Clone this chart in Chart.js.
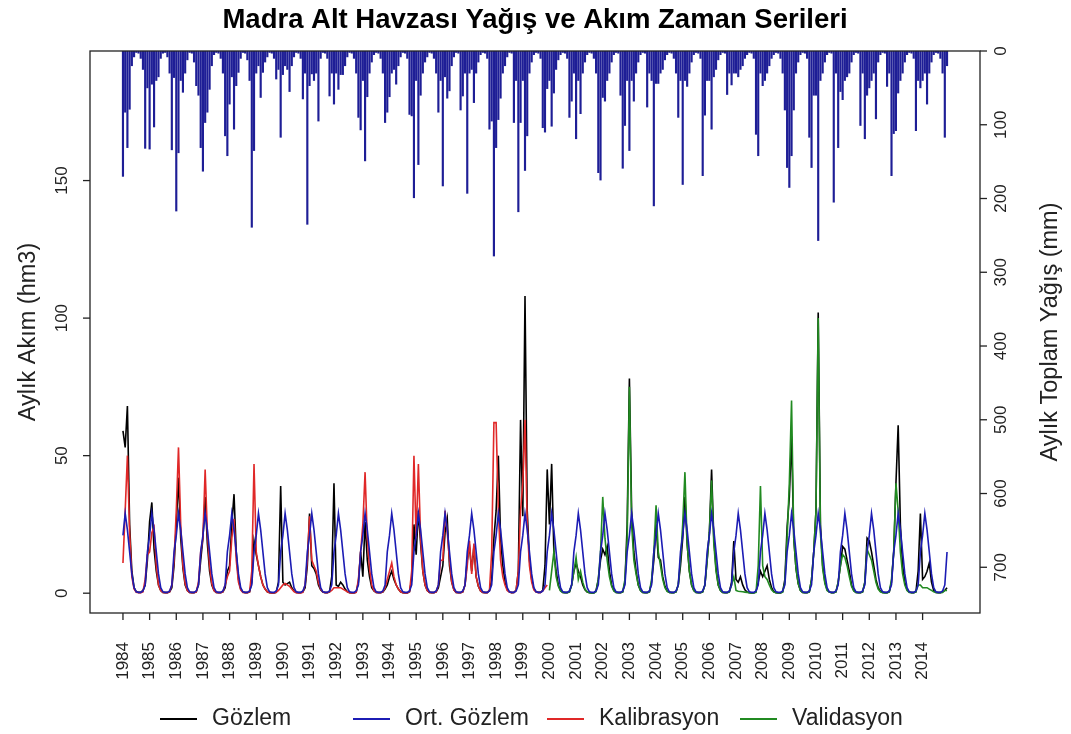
<!DOCTYPE html>
<html><head><meta charset="utf-8">
<script src="https://cdn.jsdelivr.net/npm/chart.js@4.4.1/dist/chart.umd.min.js"></script>
<style>html,body{margin:0;padding:0;background:#fff;}</style>
</head><body>
<canvas id="c" width="1071" height="734"></canvas>
<script>
// ---------------- DATA ----------------
const years = [1984,1985,1986,1987,1988,1989,1990,1991,1992,1993,1994,1995,1996,1997,1998,1999,
               2000,2001,2002,2003,2004,2005,2006,2007,2008,2009,2010,2011,2012,2013,2014];
const leftTicks = [0, 50, 100, 150];
const rightTicks = [0, 100, 200, 300, 400, 500, 600, 700];

// Gözlem (observed monthly flow, hm3), Jan..Dec per year
const gozlem = [
 59,53,68,25,8,2,0.5,0.3,0.3,1,3,12,          // 1984
 26,33,16,8,3,1,0.3,0.2,0.2,0.5,2,10,         // 1985
 25,42,20,9,3,1,0.3,0.2,0.2,0.5,3,12,         // 1986
 20,35,18,8,3,1,0.3,0.2,0.2,0.5,2,8,          // 1987
 10,25,36,15,5,1.5,0.4,0.2,0.2,0.5,4,19,      // 1988
 14,10,6,3,1.5,0.5,0.2,0.1,0.1,0.3,4,39,      // 1989
 4,3,3.5,4,2,0.8,0.3,0.2,0.2,0.5,2,10,        // 1990
 29,10,9,7,3,1.2,0.4,0.2,0.2,0.5,6,40,        // 1991
 3,2.5,4,3,1.5,0.6,0.2,0.1,0.1,0.4,4,15,      // 1992
 6,26,12,6,2,0.8,0.3,0.2,0.2,0.4,1.5,3,       // 1993
 6,8,5,3,1.5,0.5,0.2,0.1,0.1,0.5,5,25,        // 1994
 14,30,18,8,3,1,0.3,0.2,0.2,0.5,2,6,          // 1995
 10,22,27,10,4,1.2,0.3,0.2,0.2,0.5,3,12,      // 1996
 17,8,17,6,2.5,0.8,0.3,0.2,0.2,1,5,20,        // 1997
 30,50,20,10,4,1.2,0.4,0.2,0.3,1,8,63,        // 1998
 28,108,30,12,5,1.5,0.5,0.3,0.3,1,10,45,      // 1999
 25,47,15,8,3,1,0.3,0.2,0.2,0.5,3,8,          // 2000
 11,8,6,3,1.2,0.4,0.2,0.1,0.1,1,5,12,         // 2001
 16,14,17,8,3,1,0.3,0.2,0.2,0.5,4,25,         // 2002
 78,30,15,8,3,1,0.3,0.2,0.2,0.5,4,12,         // 2003
 25,13,12,6,2.5,0.8,0.3,0.2,0.2,0.5,3,10,     // 2004
 20,35,18,8,3,1,0.3,0.2,0.2,0.5,3,12,         // 2005
 22,45,20,9,3,1,0.3,0.2,0.2,0.5,4,19,         // 2006
 5,4,6,3,1.2,0.4,0.2,0.1,0.1,0.5,4,8,         // 2007
 6,8,10,5,2,0.6,0.2,0.1,0.1,0.5,5,24,         // 2008
 35,57,20,9,3.5,1,0.3,0.2,0.2,0.5,5,15,       // 2009
 30,102,25,10,4,1.2,0.4,0.2,0.2,0.5,4,10,     // 2010
 17,16,12,8,3,1,0.3,0.2,0.2,0.5,4,20,         // 2011
 19,15,10,5,2,0.7,0.3,0.2,0.2,0.5,4,15,       // 2012
 40,61,25,10,4,1.2,0.4,0.2,0.2,0.5,8,29,      // 2013
 5,6,8,11,4,1,0.3,0.2,0.2,0.5,1,2             // 2014
];

// Ort. Gözlem: mean observed flow per calendar month (Jan..Dec)
const ortGozlemAylik = [21, 29, 23, 15, 7, 2, 0.5, 0.3, 0.3, 0.8, 3, 15];

// Kalibrasyon (simulated, 1984-1999)
const kalibrasyon = [
 11,30,50,22,6,1.5,0.3,0.2,0.2,0.5,5,14,      // 1984
 15,22,24,10,3,1,0.3,0.2,0.2,0.5,3,12,        // 1985
 30,53,25,10,3.5,1,0.3,0.2,0.2,0.5,4,15,      // 1986
 20,45,22,10,3.5,1,0.3,0.2,0.2,0.5,3,6,       // 1987
 8,20,27,12,4,1.2,0.3,0.2,0.2,0.5,8,47,       // 1988
 15,10,6,3,1.5,0.5,0.2,0.1,0.1,0.3,1,2,       // 1989
 3,3.5,3,2.5,1.5,0.6,0.2,0.1,0.1,0.3,3,12,    // 1990
 28,12,10,8,4,1.5,0.4,0.2,0.2,0.5,1,2,        // 1991
 2,2,2,1.5,1,0.5,0.2,0.1,0.1,0.3,5,15,        // 1992
 25,44,20,9,3,1,0.3,0.2,0.2,0.5,2,5,          // 1993
 8,11,6,3,1.5,0.5,0.2,0.1,0.1,0.5,8,50,       // 1994
 20,47,20,8,3,1,0.3,0.2,0.2,0.5,3,12,         // 1995
 12,30,22,12,4,1.2,0.3,0.2,0.2,0.5,3,10,      // 1996
 19,7,18,6,2.5,0.8,0.3,0.2,0.2,1,15,62,       // 1997
 62,30,12,6,3,1,0.4,0.2,0.3,1,8,30,           // 1998
 40,63,25,10,4,1.2,0.4,0.2,0.3,0.8,2,3        // 1999
];

// Validasyon (simulated, 2000-2014)
const validasyon = [
 1,8,15,6,2.5,0.8,0.3,0.2,0.2,0.5,3,8,        // 2000
 13,5,8,4,1.5,0.5,0.2,0.1,0.1,0.5,5,15,       // 2001
 35,20,12,6,2.5,0.8,0.3,0.2,0.2,0.5,5,20,     // 2002
 75,25,12,7,3,1,0.3,0.2,0.2,0.5,5,15,         // 2003
 32,15,10,5,2,0.7,0.3,0.2,0.2,0.5,3,12,       // 2004
 25,44,18,8,3,1,0.3,0.2,0.2,0.5,3,12,         // 2005
 22,41,18,8,3,1,0.3,0.2,0.2,0.5,3,6,          // 2006
 1,0.7,0.6,0.5,0.4,0.3,0.2,0.1,0.1,0.3,10,39, // 2007
 10,6,5,3,1.2,0.4,0.2,0.1,0.1,0.4,4,20,       // 2008
 40,70,20,9,3.5,1,0.3,0.2,0.2,0.5,5,15,       // 2009
 30,100,22,9,3.5,1,0.4,0.2,0.2,0.5,4,10,      // 2010
 14,13,10,6,2.5,0.8,0.3,0.2,0.2,0.5,4,16,     // 2011
 14,12,8,4,1.5,0.5,0.2,0.1,0.1,0.5,5,15,      // 2012
 40,30,15,7,3,1,0.3,0.2,0.2,0.5,3,3,          // 2013
 2,2,2,1.5,1,0.5,0.3,0.2,0.2,0.3,1,1          // 2014
];

// Aylık toplam yağış (mm), Jan..Dec per year
const yagis = [
 170,83,131,79,20,8,2,3,10,25,132,50,     // 1984
 133,45,103,40,35,10,3,2,8,30,134,36,     // 1985
 217,138,40,56,30,12,2,3,15,47,60,131,    // 1986
 163,97,83,52,20,5,2,3,10,30,115,142,     // 1987
 72,35,106,47,29,10,2,3,12,40,239,135,    // 1988
 30,20,63,29,15,8,2,3,10,38,25,117,       // 1989
 32,20,25,55,20,8,2,3,10,65,30,235,       // 1990
 47,31,40,30,95,10,2,3,10,61,30,72,       // 1991
 30,52,32,32,20,8,2,3,10,30,90,107,       // 1992
 40,149,62,30,15,5,2,3,10,30,97,83,       // 1993
 62,30,25,45,20,8,2,3,10,86,88,199,       // 1994
 40,154,60,30,15,8,2,3,10,30,83,40,       // 1995
 183,35,64,54,20,8,2,3,80,61,30,193,      // 1996
 30,25,70,30,15,5,2,3,10,106,95,278,      // 1997
 131,93,64,30,20,8,2,3,97,40,218,97,      // 1998
 40,162,115,30,15,5,2,3,10,104,110,51,    // 1999
 40,102,57,25,12,5,2,3,10,90,68,30,       // 2000
 119,40,85,30,15,5,2,3,10,30,165,175,     // 2001
 63,68,40,30,15,5,2,3,60,159,101,40,      // 2002
 135,40,68,30,15,5,2,3,76,30,40,210,      // 2003
 44,44,30,25,12,5,2,3,10,30,90,40,        // 2004
 181,40,48,30,15,5,2,3,10,169,87,40,      // 2005
 40,106,35,25,12,5,2,3,59,30,46,30,       // 2006
 30,35,25,20,10,5,2,3,10,113,142,30,      // 2007
 47,40,30,20,10,5,2,3,10,30,80,158,       // 2008
 185,142,80,30,15,5,2,3,10,117,158,60,    // 2009
 60,257,40,30,15,5,2,3,205,30,131,55,     // 2010
 66,40,35,30,15,5,2,3,101,30,119,60,      // 2011
 50,40,30,92,15,5,2,3,48,30,169,112,      // 2012
 108,57,40,30,15,5,2,3,10,108,40,50,      // 2013
 40,30,72,30,15,5,2,3,10,30,117,20        // 2014
];

// ---------------- BUILD ----------------
const nMonths = years.length * 12;
const pts = (arr, off) => arr.map((v, i) => ({x: i + off, y: v}));
const ortGozlem = [];
for (let i = 0; i < nMonths; i++) ortGozlem.push(ortGozlemAylik[i % 12]);
const calLen = kalibrasyon.length;

const FONT = '"Liberation Sans", Arial, sans-serif';
const COL = {
  obs: '#000000', ort: '#1c1cb4', cal: '#e02828', val: '#218a21', rain: '#1e1e96'
};

const decor = {
  id: 'decor',
  afterDraw(chart) {
    const ctx = chart.ctx, a = chart.chartArea;
    const xs = chart.scales.x, ys = chart.scales.y, y2 = chart.scales.y2;
    ctx.save();
    ctx.strokeStyle = '#222'; ctx.lineWidth = 1.3;
    ctx.strokeRect(a.left, a.top, a.right - a.left, a.bottom - a.top);
    ctx.fillStyle = '#222';
    ctx.font = '17px ' + FONT;
    // left axis
    leftTicks.forEach(t => {
      const y = ys.getPixelForValue(t);
      ctx.beginPath(); ctx.moveTo(a.left, y); ctx.lineTo(a.left - 7, y); ctx.stroke();
      ctx.save(); ctx.translate(a.left - 28, y); ctx.rotate(-Math.PI/2);
      ctx.textAlign = 'center'; ctx.textBaseline = 'middle'; ctx.fillText(String(t), 0, 0);
      ctx.restore();
    });
    // right axis
    rightTicks.forEach(t => {
      const y = y2.getPixelForValue(t);
      ctx.beginPath(); ctx.moveTo(a.right, y); ctx.lineTo(a.right + 7, y); ctx.stroke();
      ctx.save(); ctx.translate(a.right + 21, y); ctx.rotate(-Math.PI/2);
      ctx.textAlign = 'center'; ctx.textBaseline = 'middle'; ctx.fillText(String(t), 0, 0);
      ctx.restore();
    });
    // x axis
    years.forEach((yr, k) => {
      const x = xs.getPixelForValue(k * 12);
      ctx.beginPath(); ctx.moveTo(x, a.bottom); ctx.lineTo(x, a.bottom + 7); ctx.stroke();
      ctx.save(); ctx.translate(x, a.bottom + 29); ctx.rotate(-Math.PI/2);
      ctx.textAlign = 'right'; ctx.textBaseline = 'middle'; ctx.fillText(String(yr), 0, 0);
      ctx.restore();
    });
    // axis titles
    ctx.font = '23.5px ' + FONT;
    const cy = (a.top + a.bottom) / 2;
    ctx.save(); ctx.translate(29, cy); ctx.rotate(-Math.PI/2);
    ctx.textAlign = 'center'; ctx.textBaseline = 'middle'; ctx.fillText('Aylık Akım (hm3)', 0, 0); ctx.restore();
    ctx.save(); ctx.translate(1051, cy); ctx.rotate(-Math.PI/2);
    ctx.textAlign = 'center'; ctx.textBaseline = 'middle'; ctx.fillText('Aylık Toplam Yağış (mm)', 0, 0); ctx.restore();
    // title
    ctx.font = 'bold 27.5px ' + FONT;
    ctx.fillStyle = '#000';
    ctx.textAlign = 'center'; ctx.textBaseline = 'middle';
    ctx.fillText('Madra Alt Havzası Yağış ve Akım Zaman Serileri', 535, 20);
    // legend
    ctx.font = '23px ' + FONT;
    ctx.textAlign = 'left';
    const ly = 719;
    const items = chart.data.datasets.filter(d => d.type === 'line');
    const lx = [160, 353, 547, 740];
    items.forEach((d, i) => {
      ctx.strokeStyle = d.borderColor; ctx.lineWidth = 2.2;
      ctx.beginPath(); ctx.moveTo(lx[i], ly); ctx.lineTo(lx[i] + 37, ly); ctx.stroke();
      ctx.fillStyle = '#222';
      ctx.fillText(d.label, lx[i] + 52, ly);
    });
    ctx.restore();
  }
};

new Chart(document.getElementById('c').getContext('2d'), {
  data: {
    datasets: [
      {type: 'line', label: 'Gözlem', data: pts(gozlem, 0), borderColor: COL.obs, borderWidth: 1.6,
       pointRadius: 0, tension: 0, yAxisID: 'y', order: 4},
      {type: 'line', label: 'Ort. Gözlem', data: pts(ortGozlem, 0), borderColor: COL.ort, borderWidth: 1.6,
       pointRadius: 0, tension: 0, yAxisID: 'y', order: 1},
      {type: 'line', label: 'Kalibrasyon', data: pts(kalibrasyon, 0), borderColor: COL.cal, borderWidth: 1.6,
       pointRadius: 0, tension: 0, yAxisID: 'y', order: 3},
      {type: 'line', label: 'Validasyon', data: pts(validasyon, calLen), borderColor: COL.val, borderWidth: 1.6,
       pointRadius: 0, tension: 0, yAxisID: 'y', order: 2},
      {type: 'bar', label: 'Yağış', data: pts(yagis, 0), backgroundColor: COL.rain, borderWidth: 0,
       barThickness: 1.5, yAxisID: 'y2', order: 5}
    ]
  },
  options: {
    responsive: false, animation: false, devicePixelRatio: 1,
    layout: {padding: {left: 90, right: 91, top: 51, bottom: 121}},
    plugins: {legend: {display: false}, tooltip: {enabled: false}},
    scales: {
      x: {type: 'linear', offset: false, min: -14.84, max: 385.84, display: false},
      y: {type: 'linear', min: -7.2, max: 197.1, display: false},
      y2: {type: 'linear', position: 'right', reverse: true, min: 0, max: 762, display: false}
    }
  },
  plugins: [decor]
});
</script>
</body></html>
